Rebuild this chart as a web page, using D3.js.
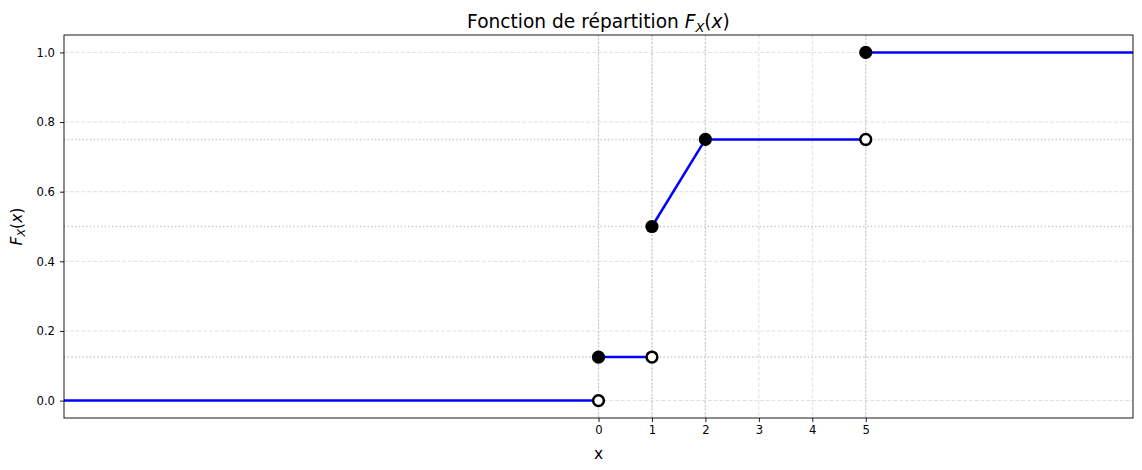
<!DOCTYPE html>
<html>
<head>
<meta charset="utf-8">
<script src="https://cdn.jsdelivr.net/npm/d3@7"></script>
<style>
  body { margin: 0; background: #fff; }
  svg { display: block; }
</style>
</head>
<body>
<svg id="chart" width="1142" height="470"></svg>
<script>
// valeurs de la fonction de répartition
var segX0 = [-10, 0, 1, 2, 5];
var segX1 = [0, 1, 2, 5, 10];
var segY0 = [0, 0.125, 0.5, 0.75, 1];
var segY1 = [0, 0.125, 0.75, 0.75, 1];

// points fermés / ouverts
var closedX = [0, 1, 2, 5];
var closedY = [0.125, 0.5, 0.75, 1];
var openX = [0, 1, 5];
var openY = [0, 0.125, 0.75];

// lignes de repère
var refY = [0.125, 0.5, 0.75];
var refX = [0, 1, 2, 5];

var xTicks = [0, 1, 2, 3, 4, 5];
var yTicks = [0, 0.2, 0.4, 0.6, 0.8, 1.0];

var W = 1142, H = 470;
var margin = {top: 35, right: 9, bottom: 52, left: 64};
var font = 'DejaVu Sans';

var svg = d3.select('#chart');
var x = d3.scaleLinear().domain([-10, 10]).range([margin.left, W - margin.right]);
var y = d3.scaleLinear().domain([-0.05, 1.05]).range([H - margin.bottom, margin.top]);

var plot = svg.append('g');

// grille
plot.append('g').selectAll('line').data(xTicks).enter().append('line')
    .attr('x1', function (d) { return x(d); })
    .attr('x2', function (d) { return x(d); })
    .attr('y1', y(1.05)).attr('y2', y(-0.05))
    .attr('stroke', '#dcdcdc').attr('stroke-width', 0.9)
    .attr('stroke-dasharray', '4,1.8');
plot.append('g').selectAll('line').data(yTicks).enter().append('line')
    .attr('y1', function (d) { return y(d); })
    .attr('y2', function (d) { return y(d); })
    .attr('x1', x(-10)).attr('x2', x(10))
    .attr('stroke', '#dcdcdc').attr('stroke-width', 0.9)
    .attr('stroke-dasharray', '4,1.8');

// repères pointillés
plot.append('g').selectAll('line').data(refY).enter().append('line')
    .attr('y1', function (d) { return y(d); })
    .attr('y2', function (d) { return y(d); })
    .attr('x1', x(-10)).attr('x2', x(10))
    .attr('stroke', '#c8c8c8').attr('stroke-width', 1.4)
    .attr('stroke-dasharray', '1.4,2.3');
plot.append('g').selectAll('line').data(refX).enter().append('line')
    .attr('x1', function (d) { return x(d); })
    .attr('x2', function (d) { return x(d); })
    .attr('y1', y(1.05)).attr('y2', y(-0.05))
    .attr('stroke', '#c8c8c8').attr('stroke-width', 1.4)
    .attr('stroke-dasharray', '1.4,2.3');

// segments
plot.append('g').selectAll('line').data(segX0).enter().append('line')
    .attr('x1', function (d) { return x(d); })
    .attr('x2', function (d, i) { return x(segX1[i]); })
    .attr('y1', function (d, i) { return y(segY0[i]); })
    .attr('y2', function (d, i) { return y(segY1[i]); })
    .attr('stroke', '#0000ff').attr('stroke-width', 2.5);

// points ouverts
plot.append('g').selectAll('circle').data(openX).enter().append('circle')
    .attr('cx', function (d) { return x(d); })
    .attr('cy', function (d, i) { return y(openY[i]); })
    .attr('r', 5.4)
    .attr('fill', '#fff').attr('stroke', '#000').attr('stroke-width', 2.5);

// points fermés
plot.append('g').selectAll('circle').data(closedX).enter().append('circle')
    .attr('cx', function (d) { return x(d); })
    .attr('cy', function (d, i) { return y(closedY[i]); })
    .attr('r', 6.6)
    .attr('fill', '#000');

// axes
var xAxis = svg.append('g')
    .attr('transform', 'translate(0,' + (H - margin.bottom) + ')')
    .call(d3.axisBottom(x).tickValues(xTicks).tickFormat(d3.format('d')).tickSize(4).tickPadding(4));
var yAxis = svg.append('g')
    .attr('transform', 'translate(' + margin.left + ',0)')
    .call(d3.axisLeft(y).tickValues(yTicks).tickFormat(d3.format('.1f')).tickSize(4).tickPadding(5));
[xAxis, yAxis].forEach(function (a) {
    a.select('.domain').remove();
    a.selectAll('line').attr('stroke', '#000').attr('stroke-width', 0.9);
    a.selectAll('text').attr('font-family', font).attr('font-size', 11.6).attr('fill', '#000');
});

// cadre
svg.append('rect')
    .attr('x', x(-10)).attr('y', y(1.05))
    .attr('width', x(10) - x(-10)).attr('height', y(-0.05) - y(1.05))
    .attr('fill', 'none').attr('stroke', '#000').attr('stroke-width', 0.9);

// titre
var title = svg.append('text')
    .attr('x', (x(-10) + x(10)) / 2).attr('y', 28)
    .attr('text-anchor', 'middle')
    .attr('font-family', font).attr('font-size', 18.6).attr('fill', '#000');
title.append('tspan').text('Fonction de répartition ');
title.append('tspan').attr('font-style', 'italic').text('F');
title.append('tspan').attr('font-style', 'italic').attr('font-size', 13).attr('dy', 3.5).text('X');
title.append('tspan').attr('dy', -3.5).text('(');
title.append('tspan').attr('font-style', 'italic').text('x');
title.append('tspan').text(')');

// libellés des axes
svg.append('text')
    .attr('x', (x(-10) + x(10)) / 2).attr('y', 459)
    .attr('text-anchor', 'middle')
    .attr('font-family', font).attr('font-size', 15.5).attr('fill', '#000')
    .text('x');

var ylab = svg.append('text')
    .attr('transform', 'translate(22,' + ((y(1.05) + y(-0.05)) / 2) + ') rotate(-90)')
    .attr('text-anchor', 'middle')
    .attr('font-family', font).attr('font-size', 15.5).attr('fill', '#000');
ylab.append('tspan').attr('font-style', 'italic').text('F');
ylab.append('tspan').attr('font-style', 'italic').attr('font-size', 11).attr('dy', 3).text('X');
ylab.append('tspan').attr('dy', -3).text('(');
ylab.append('tspan').attr('font-style', 'italic').text('x');
ylab.append('tspan').text(')');
</script>
</body>
</html>
